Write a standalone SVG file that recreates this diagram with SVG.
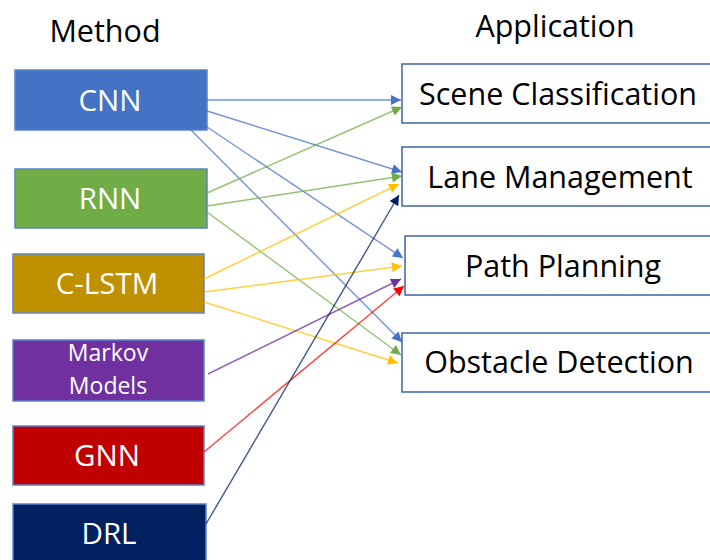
<svg xmlns="http://www.w3.org/2000/svg" width="710" height="560" viewBox="0 0 710 560">
  <style>
    text { font-family: "Open Sans", "Liberation Sans", Arial, sans-serif; text-anchor: middle; }
    .head { font-size: 30.5px; fill: #000; }
    .m { stroke: #5a82c8; stroke-width: 1.5; }
    .mt { fill: #fff; font-size: 29.5px; }
    .mt2 { fill: #fff; font-size: 23px; }
    .app { fill: #fff; stroke: #3f63a8; stroke-width: 1.5; }
    .at { fill: #000; font-size: 30.5px; }
    .c { fill: none; stroke-width: 1.4; stroke-opacity: 0.75; }
  </style>
  <defs>
    <marker id="ah-blue" viewBox="0 0 10 10" refX="10" refY="5" markerWidth="11" markerHeight="10" markerUnits="userSpaceOnUse" orient="auto"><path d="M0,0 L10,5 L0,10 z" fill="#4472c4"/></marker>
    <marker id="ah-green" viewBox="0 0 10 10" refX="10" refY="5" markerWidth="11" markerHeight="10" markerUnits="userSpaceOnUse" orient="auto"><path d="M0,0 L10,5 L0,10 z" fill="#70ad47"/></marker>
    <marker id="ah-yellow" viewBox="0 0 10 10" refX="10" refY="5" markerWidth="11" markerHeight="10" markerUnits="userSpaceOnUse" orient="auto"><path d="M0,0 L10,5 L0,10 z" fill="#ffc000"/></marker>
    <marker id="ah-purple" viewBox="0 0 10 10" refX="10" refY="5" markerWidth="11" markerHeight="10" markerUnits="userSpaceOnUse" orient="auto"><path d="M0,0 L10,5 L0,10 z" fill="#7030a0"/></marker>
    <marker id="ah-red" viewBox="0 0 10 10" refX="10" refY="5" markerWidth="11" markerHeight="10" markerUnits="userSpaceOnUse" orient="auto"><path d="M0,0 L10,5 L0,10 z" fill="#ff0000"/></marker>
    <marker id="ah-navy" viewBox="0 0 10 10" refX="10" refY="5" markerWidth="11" markerHeight="10" markerUnits="userSpaceOnUse" orient="auto"><path d="M0,0 L10,5 L0,10 z" fill="#002060"/></marker>
  </defs>

  <rect width="710" height="560" fill="#fff"/>

  <!-- column headings -->
  <text class="head" x="105" y="42">Method</text>
  <text class="head" x="555" y="37">Application</text>

  <!-- method nodes -->
  <g id="cnn"><rect class="m" x="15" y="70" width="192" height="60" fill="#4472c4"/><text class="mt" x="110" y="111">CNN</text></g>
  <g id="rnn"><rect class="m" x="15" y="169" width="192" height="59" fill="#70ad47"/><text class="mt" x="110" y="209">RNN</text></g>
  <g id="clstm"><rect class="m" x="13" y="254" width="191" height="59" fill="#bf9000"/><text class="mt" x="107" y="294">C-LSTM</text></g>
  <g id="markov"><rect class="m" x="13" y="340" width="191" height="61" fill="#7030a0"/><text class="mt2" x="108" y="361">Markov</text><text class="mt2" x="108" y="394">Models</text></g>
  <g id="gnn"><rect class="m" x="13" y="426" width="191" height="59" fill="#c00000"/><text class="mt" x="107" y="466">GNN</text></g>
  <g id="drl"><rect class="m" x="13" y="504" width="193" height="70" fill="#002060"/><text class="mt" x="109" y="544">DRL</text></g>

  <!-- application nodes -->
  <g id="scene"><rect class="app" x="402" y="64" width="320" height="59"/><text class="at" x="558" y="105">Scene Classification</text></g>
  <g id="lane"><rect class="app" x="402" y="147" width="320" height="59"/><text class="at" x="560" y="188">Lane Management</text></g>
  <g id="path"><rect class="app" x="405" y="236" width="320" height="59"/><text class="at" x="563" y="277">Path Planning</text></g>
  <g id="obstacle"><rect class="app" x="402" y="333" width="320" height="59"/><text class="at" x="559" y="373">Obstacle Detection</text></g>

  <!-- connectors -->
  <g id="connectors">
    <line class="c" x1="207" y1="100" x2="401" y2="100" stroke="#4472c4" marker-end="url(#ah-blue)"/>
    <line class="c" x1="207" y1="111" x2="402" y2="172" stroke="#4472c4" marker-end="url(#ah-blue)"/>
    <line class="c" x1="207" y1="127" x2="403" y2="258" stroke="#4472c4" marker-end="url(#ah-blue)"/>
    <line class="c" x1="191" y1="130" x2="402" y2="342" stroke="#4472c4" marker-end="url(#ah-blue)"/>

    <line class="c" x1="207" y1="193" x2="402" y2="107" stroke="#70ad47" marker-end="url(#ah-green)"/>
    <line class="c" x1="207" y1="206" x2="402" y2="176" stroke="#70ad47" marker-end="url(#ah-green)"/>
    <line class="c" x1="207" y1="212" x2="401" y2="355" stroke="#70ad47" marker-end="url(#ah-green)"/>

    <line class="c" x1="204" y1="279" x2="399" y2="184" stroke="#ffc000" marker-end="url(#ah-yellow)"/>
    <line class="c" x1="204" y1="292" x2="402" y2="266" stroke="#ffc000" marker-end="url(#ah-yellow)"/>
    <line class="c" x1="204" y1="302" x2="398" y2="363" stroke="#ffc000" marker-end="url(#ah-yellow)"/>

    <line class="c" x1="208" y1="374" x2="401" y2="279" stroke="#7030a0" marker-end="url(#ah-purple)"/>
    <line class="c" x1="204" y1="452" x2="404" y2="286" stroke="#ff0000" marker-end="url(#ah-red)"/>
    <line class="c" x1="206" y1="524" x2="399" y2="195" stroke="#002060" marker-end="url(#ah-navy)"/>
  </g>
</svg>
